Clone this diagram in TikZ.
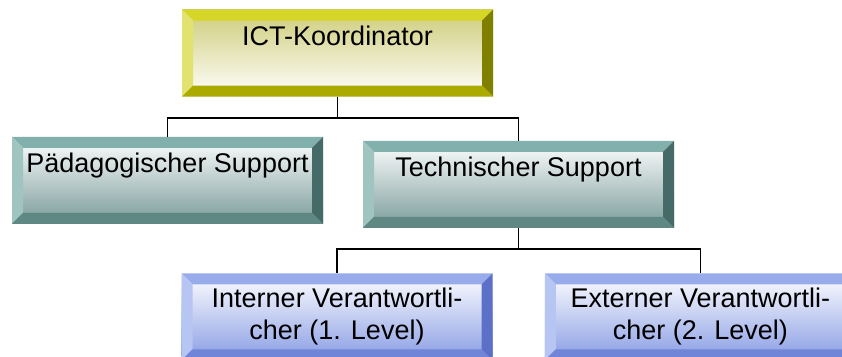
\documentclass[tikz,border=0pt]{standalone}
\usepackage{fontspec}
\setmainfont{Liberation Sans}
\usepackage{xcolor}
\usetikzlibrary{positioning}

% bevel colours: top, left, right, bottom, face
\definecolor{ylwtop}{RGB}{214,214,40}
\definecolor{ylwleft}{RGB}{226,226,112}
\definecolor{ylwright}{RGB}{128,128,0}
\definecolor{ylwbot}{RGB}{170,170,0}
\definecolor{ylwface}{RGB}{206,204,120}
\definecolor{tealtop}{RGB}{130,176,172}
\definecolor{tealleft}{RGB}{160,196,192}
\definecolor{tealright}{RGB}{70,106,104}
\definecolor{tealbot}{RGB}{95,135,132}
\definecolor{tealface}{RGB}{120,155,153}
\definecolor{bluetop}{RGB}{152,172,236}
\definecolor{blueleft}{RGB}{182,197,242}
\definecolor{blueright}{RGB}{92,112,200}
\definecolor{bluebot}{RGB}{112,132,216}
\definecolor{blueface}{RGB}{136,156,228}

\begin{document}
\begin{tikzpicture}[auto]
    \tikzset{
      bevelbox/.style={rectangle, minimum width=311pt, minimum height=87pt, inner sep=0pt,
        font=\fontsize{27}{32}\selectfont,
        path picture={
          \path (path picture bounding box.north west) coordinate (nw)
                (path picture bounding box.north east) coordinate (ne)
                (path picture bounding box.south east) coordinate (se)
                (path picture bounding box.south west) coordinate (sw);
          \fill[#1top] (nw) -- (ne) -- ([shift={(-11pt,-11pt)}]ne) -- ([shift={(11pt,-11pt)}]nw) -- cycle;
          \fill[#1left] (nw) -- (sw) -- ([shift={(11pt,11pt)}]sw) -- ([shift={(11pt,-11pt)}]nw) -- cycle;
          \fill[#1right] (ne) -- (se) -- ([shift={(-11pt,11pt)}]se) -- ([shift={(-11pt,-11pt)}]ne) -- cycle;
          \fill[#1bot] (sw) -- (se) -- ([shift={(-11pt,11pt)}]se) -- ([shift={(11pt,11pt)}]sw) -- cycle;
        }},
      oneline/.style={text height=36pt, text depth=51pt},
      coordbox/.style={bevelbox=ylw, top color=ylwface, bottom color=white, oneline},
      supportbox/.style={bevelbox=teal, top color=white, bottom color=tealface, oneline},
      levelbox/.style={bevelbox=blue, top color=white, bottom color=blueface, align=center},
      conn/.style={line width=1.8pt, black}
    }
    \useasboundingbox (0pt,0pt) rectangle (842pt,-356pt);

    \node [coordbox] (koord) at (337.5pt,-53pt) {ICT-Koordinator};
    \node [supportbox, below=40pt of koord, xshift=-170pt] (paed) {Pädagogischer Support};
    \node [supportbox, below=44pt of koord, xshift=181pt] (tech) {Technischer Support};
    \node [levelbox, below=45pt of tech, xshift=-181.5pt] (intern) {Interner Verantwortli-\\cher (1. Level)};
    \node [levelbox, right=52pt of intern] (extern) {Externer Verantwortli-\\cher (2. Level)};

    \draw [conn] (koord.south) -- ++(0,-21pt) coordinate (kjoin) -| (paed.north);
    \draw [conn] (kjoin) -| (tech.north);
    \draw [conn] (tech.south) -- ++(0,-21pt) coordinate (tjoin) -| (intern.north);
    \draw [conn] (tjoin) -| (extern.north);

\end{tikzpicture}
\end{document}
